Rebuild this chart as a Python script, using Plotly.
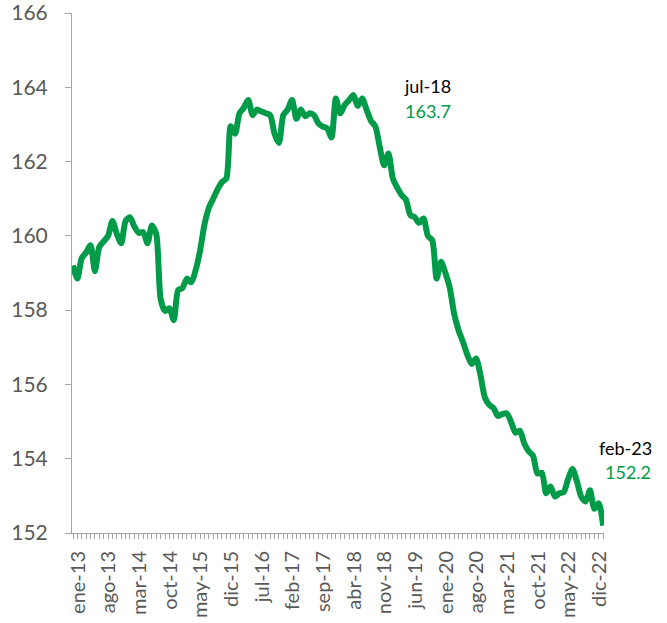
import plotly.graph_objects as go

month_names = ["ene", "feb", "mar", "abr", "may", "jun", "jul", "ago", "sep", "oct", "nov", "dic"]
years = list(range(13, 24))
categories = [f"{m}-{y}" for y in years for m in month_names][:122]  # ene-13 .. feb-23

values = [
    159.2, 158.85, 159.4, 159.55, 159.75, 159.05, 159.7, 159.85, 160.0, 160.4,
    160.05, 159.8, 160.4, 160.5, 160.25, 160.08, 160.1, 159.8, 160.28, 160.05,
    158.3, 157.98, 158.05, 157.73, 158.54, 158.6, 158.85, 158.75, 159.08, 159.6,
    160.3, 160.75, 161.0, 161.25, 161.45, 161.55, 162.95, 162.75, 163.3, 163.45,
    163.66, 163.25, 163.4, 163.35, 163.3, 163.25, 162.75, 162.5, 163.25, 163.4,
    163.66, 163.15, 163.4, 163.22, 163.3, 163.25, 163.03, 162.94, 162.9, 162.65,
    163.7, 163.3, 163.52, 163.65, 163.79, 163.5, 163.7, 163.4, 163.1, 162.95,
    162.4, 161.9, 162.22, 161.55, 161.3, 161.1, 160.97, 160.56, 160.5, 160.35,
    160.47, 160.0, 159.88, 158.85, 159.3, 159.0, 158.6, 157.9, 157.46, 157.15,
    156.8, 156.55, 156.7, 156.25, 155.65, 155.45, 155.36, 155.15, 155.2, 155.22,
    154.99, 154.7, 154.75, 154.41, 154.2, 154.08, 153.6, 153.62, 153.07, 153.25,
    152.98, 153.07, 153.1, 153.45, 153.72, 153.4, 152.98, 152.85, 153.15, 152.65,
    152.8, 152.2,
]

tick_labels = ["ene-13", "ago-13", "mar-14", "oct-14", "may-15", "dic-15", "jul-16",
               "feb-17", "sep-17", "abr-18", "nov-18", "jun-19", "ene-20", "ago-20",
               "mar-21", "oct-21", "may-22", "dic-22"]

y_ticks = [152, 154, 156, 158, 160, 162, 164, 166]

highlights = [("jul-18", 163.7), ("feb-23", 152.2)]

GREEN = "#009B48"
GRAY = "#A6A6A6"
FONT = "Lato"

ticktext = [c if c in tick_labels else "" for c in categories]

fig = go.Figure()
fig.add_trace(go.Scatter(
    x=categories, y=values, mode="lines",
    line=dict(color=GREEN, width=6, shape="spline", smoothing=0.7),
    hoverinfo="x+y", showlegend=False,
))

# annotations for highlighted points
offsets = {"jul-18": (65, 12, 66, -13), "feb-23": (22, 78, 25, 54)}
for lab, val in highlights:
    dx1, dy1, dx2, dy2 = offsets[lab]
    fig.add_annotation(x=lab, y=val, text=lab, showarrow=False,
                       xshift=dx1, yshift=dy1,
                       font=dict(family=FONT, size=18, color="#000000"))
    fig.add_annotation(x=lab, y=val, text=f"{val:.1f}", showarrow=False,
                       xshift=dx2, yshift=dy2,
                       font=dict(family=FONT, size=18, color=GREEN))

fig.update_layout(
    width=667, height=623,
    margin=dict(l=72, r=63, t=13, b=90, autoexpand=False),
    paper_bgcolor="white", plot_bgcolor="white",
    font=dict(family=FONT, color="#595959"),
    xaxis=dict(
        type="category", automargin=False,
        range=[-0.23, 121.2],
        tickmode="array", tickvals=categories, ticktext=ticktext,
        tickangle=-90, ticklabelshift=5, ticklabelstandoff=4,
        tickfont=dict(family=FONT, size=20, color="#595959"),
        ticks="outside", ticklen=5, tickcolor=GRAY, tickwidth=1,
        showline=True, linecolor=GRAY, linewidth=1,
        showgrid=False, zeroline=False, ticklabeloverflow="allow",
    ),
    yaxis=dict(
        range=[152, 166], automargin=False,
        tickmode="array", tickvals=y_ticks,
        tickfont=dict(family=FONT, size=21, color="#595959"),
        ticks="outside", ticklen=6, tickcolor=GRAY, tickwidth=1,
        ticklabelstandoff=13, ticklabeloverflow="allow",
        showline=True, linecolor=GRAY, linewidth=1,
        showgrid=False, zeroline=False,
    ),
)

fig.write_html("out.html", config={"displayModeBar": False},
               post_script="document.body.style.margin='0';")
